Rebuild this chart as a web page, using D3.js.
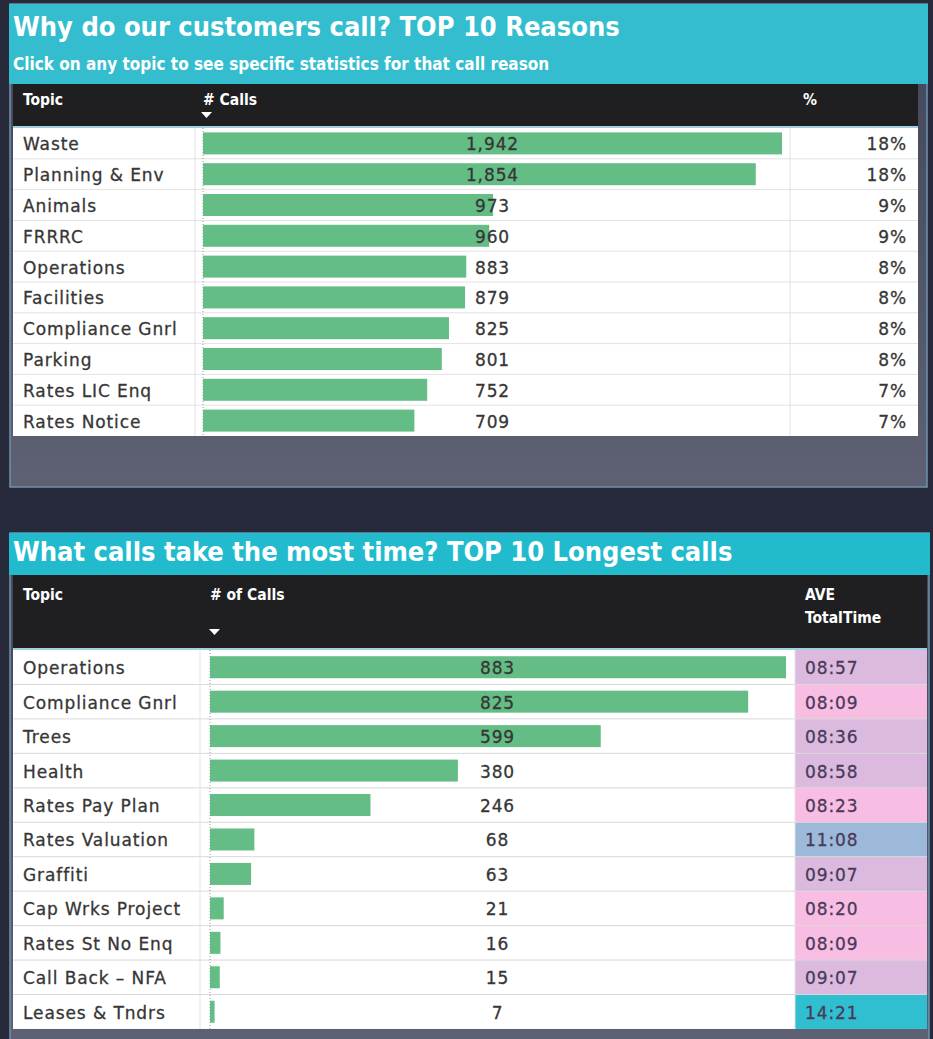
<!DOCTYPE html>
<html>
<head>
<meta charset="utf-8">
<script src="https://cdn.jsdelivr.net/npm/d3@7/dist/d3.min.js"></script>
<style>
  html, body { margin: 0; padding: 0; background: #272a3b; }
  svg { display: block; }
  .cond { font-family: "DejaVu Sans Condensed", "Liberation Sans Narrow", "DejaVu Sans", sans-serif; }
  .cell { font-family: "DejaVu Sans", "Noto Sans", sans-serif; letter-spacing: 0.9px; }
</style>
</head>
<body>
<svg id="dash" width="933" height="1039"></svg>
<script>
// ---- Top 10 reasons for calling ----
const reasonTopics = ["Waste", "Planning & Env", "Animals", "FRRRC", "Operations",
  "Facilities", "Compliance Gnrl", "Parking", "Rates LIC Enq", "Rates Notice"];
const reasonCalls = [1942, 1854, 973, 960, 883, 879, 825, 801, 752, 709];
const reasonPct = [18, 18, 9, 9, 8, 8, 8, 8, 7, 7];

// ---- Top 10 longest calls ----
const longTopics = ["Operations", "Compliance Gnrl", "Trees", "Health", "Rates Pay Plan",
  "Rates Valuation", "Graffiti", "Cap Wrks Project", "Rates St No Enq", "Call Back – NFA", "Leases & Tndrs"];
const longCalls = [883, 825, 599, 380, 246, 68, 63, 21, 16, 15, 7];
const longAveTime = ["08:57", "08:09", "08:36", "08:58", "08:23", "11:08", "09:07", "08:20", "08:09", "09:07", "14:21"];

const svg = d3.select("#dash");
const barColor = "#63bd85";
const gridColor = "#e2e2e2";
const textColor = "#363636";

const defs = svg.append("defs");
const grad = defs.append("linearGradient").attr("id", "panelGrey")
  .attr("x1", 0).attr("y1", 0).attr("x2", 0).attr("y2", 1);
grad.append("stop").attr("offset", "0%").attr("stop-color", "#43465a");
grad.append("stop").attr("offset", "100%").attr("stop-color", "#5e6173");

const toSec = t => { const [m, s] = t.split(":").map(Number); return m * 60 + s; };

function drawTable(cfg) {
  const g = svg.append("g");
  const rows = cfg.topics.map((t, i) => ({ topic: t, calls: cfg.calls[i], i }));
  const y = d3.scaleBand().domain(d3.range(rows.length))
    .range([cfg.rowsTop, cfg.rowsTop + cfg.rowH * rows.length]);
  const x = d3.scaleLinear().domain([0, d3.max(cfg.calls)]).range([cfg.barX0, cfg.barX1]);

  // panel body
  g.append("rect").attr("x", cfg.px).attr("y", cfg.py).attr("width", cfg.pw).attr("height", cfg.ph)
    .attr("fill", "url(#panelGrey)").attr("stroke", "#6f93ab").attr("stroke-width", 1.5);
  // title band
  g.append("rect").attr("x", cfg.px - 1).attr("y", cfg.py).attr("width", cfg.pw + 2).attr("height", cfg.titleH)
    .attr("fill", cfg.titleFill);
  g.append("text").attr("class", "cond").attr("x", cfg.px + 3).attr("y", cfg.titleY)
    .attr("fill", "#ffffff").attr("font-size", 27).attr("font-weight", "bold")
    .text(cfg.title);
  if (cfg.subtitle) {
    g.append("text").attr("class", "cond").attr("x", cfg.px + 3).attr("y", cfg.subY)
      .attr("fill", "#ffffff").attr("font-size", 17).attr("font-weight", "bold")
      .text(cfg.subtitle);
  }
  // column header band
  g.append("rect").attr("x", cfg.tx0).attr("y", cfg.headTop).attr("width", cfg.tx1 - cfg.tx0)
    .attr("height", cfg.rowsTop - 2 - cfg.headTop).attr("fill", "#1f1f21");
  g.append("rect").attr("x", cfg.tx0).attr("y", cfg.rowsTop - 2).attr("width", cfg.tx1 - cfg.tx0)
    .attr("height", 2).attr("fill", "#9fd0e2");
  cfg.headers.forEach(h => {
    h.lines.forEach((ln, k) => {
      g.append("text").attr("class", "cond").attr("x", h.x).attr("y", h.y + k * 23)
        .attr("fill", "#ffffff").attr("font-size", 15.5).attr("font-weight", "bold").text(ln);
    });
  });
  // sort arrow
  g.append("path")
    .attr("d", `M${cfg.arrow[0]},${cfg.arrow[1]} l11,0 l-5.5,6 z`).attr("fill", "#ffffff");

  // rows background
  g.append("rect").attr("x", cfg.tx0).attr("y", cfg.rowsTop).attr("width", cfg.tx1 - cfg.tx0)
    .attr("height", cfg.rowH * rows.length).attr("fill", "#ffffff");

  // right column colour fill (conditional formatting)
  if (cfg.timeColor) {
    g.selectAll("rect.tc").data(rows).join("rect").attr("class", "tc")
      .attr("x", cfg.colR).attr("y", d => y(d.i)).attr("width", cfg.tx1 - cfg.colR)
      .attr("height", y.bandwidth())
      .attr("fill", d => cfg.timeColor(toSec(cfg.right[d.i])));
  }

  // grid lines
  g.selectAll("line.h").data(rows.slice(1)).join("line").attr("class", "h")
    .attr("x1", cfg.tx0).attr("x2", cfg.tx1).attr("y1", d => y(d.i)).attr("y2", d => y(d.i))
    .attr("stroke", cfg.timeColor ? "#d8d8d8" : gridColor).attr("stroke-width", 1);
  [cfg.colL, cfg.colR].forEach(cx => {
    g.append("line").attr("x1", cx).attr("x2", cx).attr("y1", cfg.rowsTop)
      .attr("y2", cfg.rowsTop + cfg.rowH * rows.length).attr("stroke", gridColor);
  });
  g.append("line").attr("x1", cfg.barX0).attr("x2", cfg.barX0).attr("y1", cfg.rowsTop)
    .attr("y2", cfg.rowsTop + cfg.rowH * rows.length)
    .attr("stroke", "#9a9a9a").attr("stroke-dasharray", "1,2");

  // bars
  g.selectAll("rect.bar").data(rows).join("rect").attr("class", "bar")
    .attr("x", x(0)).attr("y", d => y(d.i) + (y.bandwidth() - cfg.barH) / 2)
    .attr("width", d => x(d.calls) - x(0)).attr("height", cfg.barH).attr("fill", barColor);

  // labels
  const ty = d => y(d.i) + y.bandwidth() / 2 + 7;
  g.selectAll("text.topic").data(rows).join("text").attr("class", "topic cell")
    .attr("x", cfg.tx0 + 10).attr("y", ty)
    .attr("fill", textColor).attr("stroke", textColor).attr("stroke-width", 0.3)
    .attr("font-size", 17).text(d => d.topic);
  const fmt = d3.format(",");
  g.selectAll("text.val").data(rows).join("text").attr("class", "val cell")
    .attr("x", (cfg.colL + cfg.colR) / 2).attr("text-anchor", "middle").attr("y", ty)
    .attr("fill", textColor).attr("stroke", textColor).attr("stroke-width", 0.3)
    .attr("font-size", 17).text(d => fmt(d.calls));
  const rc = cfg.timeColor ? "#4a3a58" : textColor;
  g.selectAll("text.right").data(rows).join("text").attr("class", "right cell")
    .attr("x", cfg.rightX).attr("text-anchor", cfg.rightAnchor).attr("y", ty)
    .attr("fill", rc).attr("stroke", rc).attr("stroke-width", 0.3).attr("font-size", 17)
    .text(d => cfg.right[d.i]);
}

drawTable({
  px: 10, py: 4, pw: 917, ph: 483, titleH: 80, titleFill: "#33bdcf",
  title: "Why do our customers call? TOP 10 Reasons", titleY: 36,
  subtitle: "Click on any topic to see specific statistics for that call reason", subY: 70,
  tx0: 13, tx1: 918, headTop: 84, rowsTop: 128, rowH: 30.8,
  headers: [{ x: 23, y: 105, lines: ["Topic"] }, { x: 203, y: 105, lines: ["# Calls"] }, { x: 803, y: 105, lines: ["%"] }],
  arrow: [201, 112],
  colL: 195, colR: 790, barX0: 203, barX1: 782, barH: 22,
  topics: reasonTopics, calls: reasonCalls,
  right: reasonPct.map(p => p + "%"), rightX: 907, rightAnchor: "end"
});

const allSec = longAveTime.map(toSec);
const timeScale = d3.scaleLinear()
  .domain([d3.min(allSec), 505, 515, 550, 668, d3.max(allSec)])
  .range(["#f8bde3", "#f8bde3", "#dcbae0", "#dcbae0", "#9cb9d9", "#2fbfd0"])
  .clamp(true);

drawTable({
  px: 10, py: 533, pw: 919, ph: 510, titleH: 42, titleFill: "#22bbce",
  title: "What calls take the most time? TOP 10 Longest calls", titleY: 561,
  tx0: 13, tx1: 927, headTop: 575, rowsTop: 650, rowH: 34.45,
  headers: [{ x: 23, y: 600, lines: ["Topic"] }, { x: 210, y: 600, lines: ["# of Calls"] },
    { x: 805, y: 600, lines: ["AVE", "TotalTime"] }],
  arrow: [209, 629],
  colL: 200, colR: 795, barX0: 210, barX1: 786, barH: 22,
  topics: longTopics, calls: longCalls,
  right: longAveTime, rightX: 805, rightAnchor: "start", timeColor: timeScale
});
</script>
</body>
</html>
